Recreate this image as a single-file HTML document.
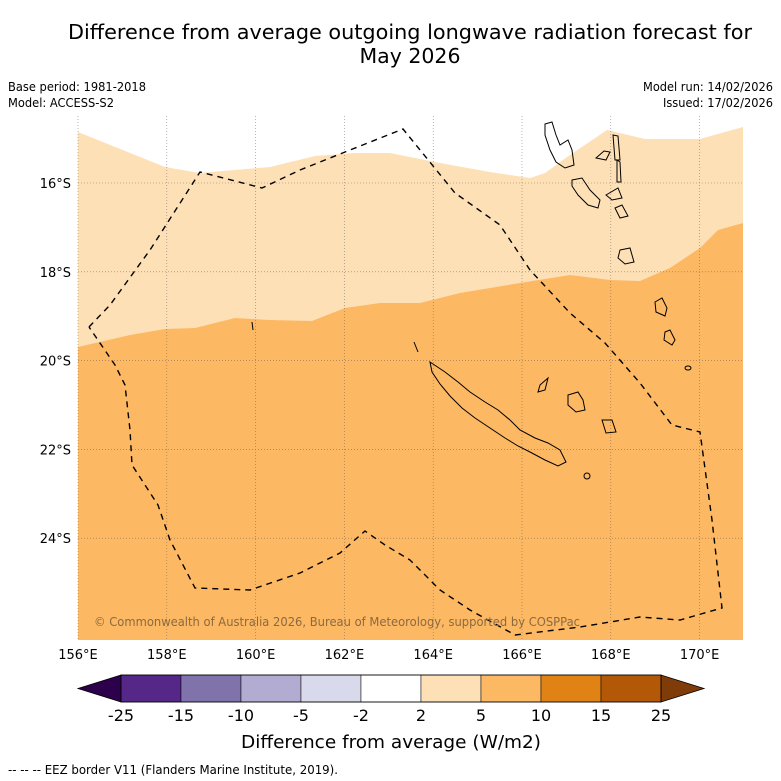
<!DOCTYPE html>
<html><head><meta charset="utf-8"><style>
body{margin:0;background:#fff;}
svg{display:block;font-family:"DejaVu Sans","Liberation Sans",sans-serif;}
</style></head><body>
<svg id="chart" width="781" height="781" viewBox="0 0 781 781">
<rect width="781" height="781" fill="#fff"/>
<text x="68" y="39" font-size="20.5" textLength="684" lengthAdjust="spacingAndGlyphs">Difference from average outgoing longwave radiation forecast for</text>
<text x="410" y="63" font-size="20.5" text-anchor="middle">May 2026</text>
<text x="8" y="91" font-size="12.5" textLength="138" lengthAdjust="spacingAndGlyphs">Base period: 1981-2018</text>
<text x="8" y="107" font-size="12.5" textLength="106" lengthAdjust="spacingAndGlyphs">Model: ACCESS-S2</text>
<text x="643" y="91" font-size="12.5" textLength="130" lengthAdjust="spacingAndGlyphs">Model run: 14/02/2026</text>
<text x="663" y="107" font-size="12.5" textLength="110" lengthAdjust="spacingAndGlyphs">Issued: 17/02/2026</text>
<g id="map">
<rect x="78" y="116" width="665" height="524" fill="#fff"/>
<polygon fill="#fee0b6" points="78,132 165,167 200,173 270,167 315,156 355,153 390,153 440,163 490,172 530,178 545,173 570,155 607,130 645,139 700,139 743,127 743,640 78,640"/>
<polygon fill="#fdb863" points="78,347 130,335 165,329 195,328 235,318 270,320 312,321 345,308 380,303 420,303 460,293 520,283 570,275 610,280 640,281 670,268 700,248 718,230 743,223 743,640 78,640"/>
<g id="grid" stroke="#555" stroke-width="0.6" stroke-dasharray="1,2" opacity="0.7"></g>
<g fill="none" stroke="#000" stroke-width="1">
<path d="M430,362 L445,372 L458,382 L470,392 L485,402 L498,410 L510,420 L520,430 L535,438 L548,443 L560,450 L566,462 L558,466 L545,460 L530,452 L518,446 L505,438 L490,428 L475,418 L462,408 L450,396 L440,384 L432,372 Z"/>
<path d="M545,124 L552,122 L556,135 L560,145 L568,140 L572,150 L574,165 L565,168 L556,162 L550,150 L545,135 Z"/>
<path d="M572,180 L582,178 L590,190 L600,200 L598,208 L588,205 L578,195 L572,186 Z"/>
<path d="M596,158 L604,151 L610,152 L606,160 Z"/>
<path d="M613,135 L618,136 L620,160 L615,160 Z"/>
<path d="M617,160 L620,162 L621,182 L617,182 Z"/>
<path d="M606,195 L618,188 L622,198 L612,200 Z"/>
<path d="M615,208 L622,205 L628,216 L620,218 Z"/>
<path d="M620,250 L630,248 L634,262 L625,264 L618,258 Z"/>
<path d="M655,302 L662,298 L667,308 L665,316 L656,312 Z"/>
<path d="M665,332 L670,330 L675,340 L672,345 L664,340 Z"/>
<path d="M540,385 L548,378 L545,390 L538,392 Z"/>
<path d="M568,395 L578,392 L583,400 L585,410 L576,412 L568,405 Z"/>
<path d="M602,420 L612,420 L616,432 L606,433 Z"/>
<ellipse cx="688" cy="368" rx="3" ry="2"/>
<ellipse cx="587" cy="476" rx="3" ry="3"/>
<path d="M414,342 L418,352"/><path d="M252,322 L253,330"/>
</g>
<polyline fill="none" stroke="#000" stroke-width="1.4" stroke-dasharray="6,5" points="89,327 110,305 150,250 200,172 262,188 300,170 345,152 403,129 455,193 500,225 530,270 570,313 605,343 640,383 672,425 700,432 712,520 722,608 680,620 640,617 580,627 515,635 470,610 440,590 410,560 385,545 365,531 340,553 300,573 250,590 195,588 170,540 158,505 132,465 130,430 125,385 115,365 89,327"/>
<text x="94" y="626" font-size="12.5" fill="#8a6a40" textLength="486" lengthAdjust="spacingAndGlyphs">© Commonwealth of Australia 2026, Bureau of Meteorology, supported by COSPPac</text>
</g>
<g id="axes"></g>
<g id="colorbar"></g>
<text x="241" y="748" font-size="18" textLength="300" lengthAdjust="spacingAndGlyphs">Difference from average (W/m2)</text>
<text x="8" y="774" font-size="12" textLength="330" lengthAdjust="spacingAndGlyphs">--  --  -- EEZ border V11 (Flanders Marine Institute, 2019).</text>
</svg>
<script>
const lonTicks=[156,158,160,162,164,166,168,170];
const latTicks=[16,18,20,22,24];
const cbBounds=[-25,-15,-10,-5,-2,2,5,10,15,25];
const cbColors=["#542788","#8073ac","#b2abd2","#d8daeb","#ffffff","#fee0b6","#fdb863","#e08214","#b35806"];
const NS="http://www.w3.org/2000/svg";
const xLon=l=>78+(l-156)*44.4;
const yLat=l=>183+(l-16)*44.4;
function mk(t,a,p){const e=document.createElementNS(NS,t);for(const k in a)e.setAttribute(k,a[k]);p.appendChild(e);return e;}
const grid=document.getElementById('grid'),axes=document.getElementById('axes'),cb=document.getElementById('colorbar');
lonTicks.forEach(l=>{
 const g=mk('line',{x1:xLon(l),x2:xLon(l),y1:116,y2:640},grid);
 
 
 const t=mk('text',{x:xLon(l),y:659,'font-size':13,'text-anchor':'middle'},axes);
 
 
 t.textContent=l+'°E';
});
latTicks.forEach(l=>{
 const g=mk('line',{x1:78,x2:743,y1:yLat(l),y2:yLat(l)},grid);
 
 
 const t=mk('text',{x:71,y:yLat(l)+5,'font-size':13,'text-anchor':'end'},axes);
 
 
 t.textContent=l+'°S';
});
const cbX0=121,cbW=60,cbY=675,cbH=27;
const n=cbColors.length;
const lt=mk('polygon',{points:`${cbX0},${cbY} ${cbX0},${cbY+cbH} 78,${cbY+cbH/2}`,fill:'#2d004b',stroke:'#000','stroke-width':0.8},cb);


const rx=cbX0+n*cbW;
const rt=mk('polygon',{points:`${rx},${cbY} ${rx},${cbY+cbH} ${rx+43},${cbY+cbH/2}`,fill:'#7f3b08',stroke:'#000','stroke-width':0.8},cb);


cbColors.forEach((c,i)=>{
 const r=mk('rect',{x:cbX0+i*cbW,y:cbY,width:cbW,height:cbH,fill:c,stroke:'#000','stroke-width':0.5},cb);
 
 
});
mk('rect',{x:cbX0,y:cbY,width:n*cbW,height:cbH,fill:'none',stroke:'#000','stroke-width':0.8},cb);
cbBounds.forEach((b,i)=>{
 const t=mk('text',{x:cbX0+i*cbW,y:cbY+cbH+19,'font-size':16,'text-anchor':'middle'},cb);
 
 
 t.textContent=b;
});
</script>
</body></html>
